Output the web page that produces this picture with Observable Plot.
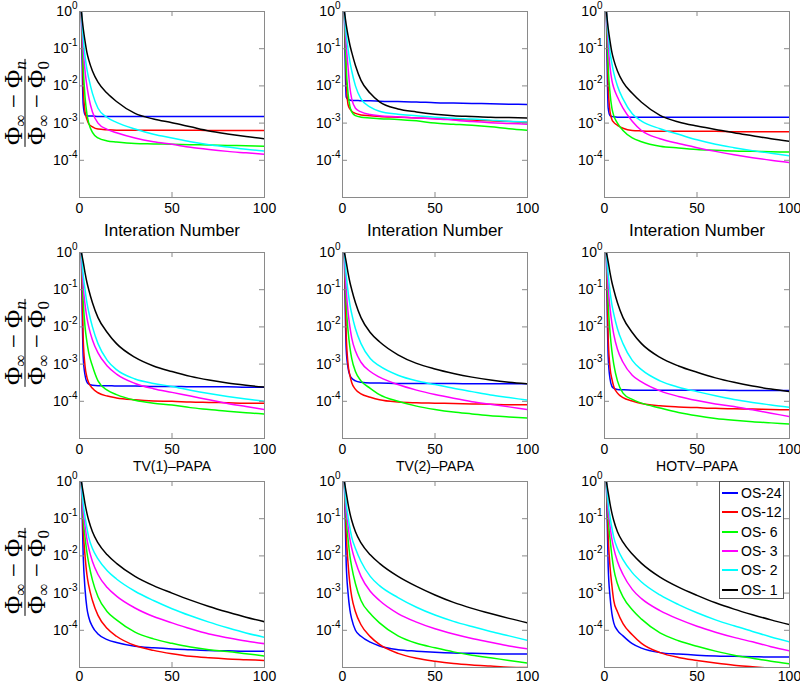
<!DOCTYPE html>
<html><head><meta charset="utf-8">
<script src="https://cdn.jsdelivr.net/npm/d3@7"></script>
<script src="https://cdn.jsdelivr.net/npm/@observablehq/plot@0.6"></script>
<style>
html,body{margin:0;padding:0;background:#fff;}
body{width:800px;height:685px;position:relative;overflow:hidden;font-family:"Liberation Sans",Arial,Helvetica,sans-serif;}
.panel{position:absolute;}
.ylab{position:absolute;transform:translate(-50%,-50%) rotate(-90deg);font-family:"Liberation Serif","DejaVu Serif",serif;font-size:25px;color:#000;white-space:nowrap;text-align:center;}
.ylab .num{border-bottom:1.6px solid #000;line-height:21px;padding:0 2px 1px 2px;}
.ylab .den{line-height:22px;padding:0 2px 0 2px;}
.ylab sub{font-size:0.68em;vertical-align:-0.28em;line-height:0;}
.legend{position:absolute;background:#fff;border:1px solid #555;font-size:14px;padding-top:2px;box-sizing:border-box;}
.legend .row{height:19.3px;display:flex;align-items:center;white-space:pre;}
.legend .sw{display:inline-block;width:16px;height:2px;margin:0 3px 0 2px;}
</style></head><body>
<script>
// ---------- shared axes / categories ----------
const iterations = [1, 2, 3, 4, 5, 7, 10, 15, 20, 30, 40, 50, 60, 70, 80, 90, 100];
const seriesNames = ["OS-24", "OS-12", "OS- 6", "OS- 3", "OS- 2", "OS- 1"];
const seriesColors = ["#0000ff", "#ff0000", "#00ff00", "#ff00ff", "#00ffff", "#000000"];
const xTicks = [0, 50, 100];
const yTicks = [1, 1e-1, 1e-2, 1e-3, 1e-4];
const yTickLabels = ["10^0", "10^-1", "10^-2", "10^-3", "10^-4"];
const panelXLabels = ["Interation Number", "Interation Number", "Interation Number",
                      "TV(1)\u2013PAPA", "TV(2)\u2013PAPA", "HOTV\u2013PAPA", "", "", ""];

// ---------- values: log10 of (Phi_inf - Phi_n)/(Phi_inf - Phi_0), read at the iterations above ----------
// row 1, column 1
const r1c1_os24 = [0,-2.5,-2.78,-2.8,-2.81,-2.81,-2.82,-2.82,-2.82,-2.82,-2.82,-2.82,-2.82,-2.82,-2.82,-2.82,-2.82];
const r1c1_os12 = [0,-2.0,-2.7,-2.9,-3.02,-3.1,-3.16,-3.18,-3.19,-3.19,-3.19,-3.19,-3.19,-3.2,-3.2,-3.2,-3.2];
const r1c1_os6  = [0,-1.5,-2.3,-2.75,-3.0,-3.25,-3.4,-3.48,-3.51,-3.55,-3.56,-3.57,-3.58,-3.59,-3.6,-3.61,-3.62];
const r1c1_os3  = [0,-1.0,-1.6,-2.0,-2.3,-2.7,-3.0,-3.17,-3.26,-3.4,-3.5,-3.57,-3.65,-3.71,-3.76,-3.8,-3.84];
const r1c1_os2  = [0,-0.7,-1.2,-1.55,-1.8,-2.2,-2.6,-2.85,-2.98,-3.16,-3.3,-3.4,-3.5,-3.58,-3.64,-3.7,-3.75];
const r1c1_os1  = [0,-0.45,-0.8,-1.1,-1.3,-1.6,-1.9,-2.2,-2.42,-2.74,-2.89,-2.99,-3.1,-3.21,-3.29,-3.36,-3.42];
// row 1, column 2
const r1c2_os24 = [0,-2.3,-2.37,-2.38,-2.39,-2.39,-2.4,-2.4,-2.41,-2.42,-2.43,-2.45,-2.46,-2.47,-2.48,-2.49,-2.5];
const r1c2_os12 = [0,-1.8,-2.5,-2.62,-2.68,-2.74,-2.78,-2.8,-2.82,-2.84,-2.86,-2.88,-2.9,-2.92,-2.94,-2.96,-2.98];
const r1c2_os6  = [0,-1.5,-2.2,-2.55,-2.7,-2.8,-2.84,-2.86,-2.88,-2.9,-2.94,-3.0,-3.03,-3.06,-3.1,-3.15,-3.19];
const r1c2_os3  = [0,-0.9,-1.5,-2.05,-2.35,-2.6,-2.7,-2.77,-2.8,-2.83,-2.86,-2.88,-2.92,-2.96,-2.99,-3.01,-3.03];
const r1c2_os2  = [0,-0.6,-1.0,-1.35,-1.6,-2.0,-2.35,-2.57,-2.68,-2.76,-2.8,-2.84,-2.87,-2.89,-2.92,-2.95,-2.97];
const r1c2_os1  = [0,-0.35,-0.65,-0.9,-1.1,-1.45,-1.85,-2.2,-2.43,-2.62,-2.7,-2.76,-2.8,-2.82,-2.84,-2.85,-2.86];
// row 1, column 3
const r1c3_os24 = [0,-2.6,-2.8,-2.82,-2.83,-2.84,-2.84,-2.84,-2.84,-2.84,-2.84,-2.84,-2.84,-2.84,-2.84,-2.84,-2.84];
const r1c3_os12 = [0,-2.0,-2.7,-2.9,-2.98,-3.06,-3.14,-3.2,-3.21,-3.22,-3.22,-3.22,-3.22,-3.23,-3.23,-3.23,-3.23];
const r1c3_os6  = [0,-1.5,-2.2,-2.6,-2.8,-3.0,-3.2,-3.4,-3.5,-3.62,-3.67,-3.71,-3.73,-3.75,-3.76,-3.77,-3.78];
const r1c3_os3  = [0,-0.9,-1.5,-1.85,-2.05,-2.3,-2.6,-2.95,-3.2,-3.42,-3.55,-3.66,-3.76,-3.85,-3.93,-4.0,-4.06];
const r1c3_os2  = [0,-0.6,-1.1,-1.4,-1.65,-2.0,-2.35,-2.75,-2.95,-3.15,-3.3,-3.45,-3.57,-3.66,-3.74,-3.81,-3.88];
const r1c3_os1  = [0,-0.45,-0.8,-1.1,-1.3,-1.6,-1.9,-2.2,-2.44,-2.79,-2.97,-3.08,-3.17,-3.26,-3.34,-3.42,-3.49];
// row 2, column 1 (TV(1)-PAPA)
const r2c1_os24 = [0,-2.8,-3.3,-3.48,-3.54,-3.57,-3.58,-3.58,-3.59,-3.59,-3.6,-3.6,-3.61,-3.61,-3.61,-3.62,-3.62];
const r2c1_os12 = [0,-2.3,-3.05,-3.35,-3.5,-3.65,-3.77,-3.86,-3.91,-3.96,-3.99,-4.0,-4.02,-4.03,-4.04,-4.05,-4.05];
const r2c1_os6  = [0,-1.3,-2.0,-2.4,-2.7,-3.05,-3.45,-3.7,-3.82,-3.97,-4.05,-4.1,-4.17,-4.22,-4.27,-4.31,-4.34];
const r2c1_os3  = [0,-0.9,-1.4,-1.75,-2.0,-2.35,-2.7,-3.05,-3.27,-3.52,-3.66,-3.76,-3.86,-3.96,-4.06,-4.14,-4.22];
const r2c1_os2  = [0,-0.6,-1.0,-1.35,-1.6,-2.0,-2.45,-2.9,-3.15,-3.4,-3.52,-3.6,-3.7,-3.79,-3.87,-3.94,-4.0];
const r2c1_os1  = [0,-0.25,-0.55,-0.8,-1.0,-1.35,-1.75,-2.15,-2.45,-2.82,-3.05,-3.2,-3.33,-3.43,-3.51,-3.57,-3.62];
// row 2, column 2 (TV(2)-PAPA)
const r2c2_os24 = [0,-2.6,-3.1,-3.3,-3.38,-3.45,-3.49,-3.51,-3.51,-3.52,-3.52,-3.52,-3.52,-3.53,-3.53,-3.53,-3.53];
const r2c2_os12 = [0,-2.2,-3.0,-3.3,-3.5,-3.68,-3.8,-3.89,-3.96,-4.02,-4.04,-4.05,-4.06,-4.07,-4.08,-4.09,-4.09];
const r2c2_os6  = [0,-1.4,-2.1,-2.55,-2.85,-3.2,-3.45,-3.65,-3.82,-4.0,-4.13,-4.22,-4.29,-4.34,-4.39,-4.42,-4.45];
const r2c2_os3  = [0,-1.0,-1.6,-2.0,-2.3,-2.65,-2.95,-3.2,-3.35,-3.55,-3.7,-3.82,-3.92,-4.01,-4.08,-4.15,-4.22];
const r2c2_os2  = [0,-0.6,-1.05,-1.4,-1.65,-2.05,-2.45,-2.85,-3.05,-3.3,-3.45,-3.55,-3.65,-3.74,-3.83,-3.9,-3.97];
const r2c2_os1  = [0,-0.25,-0.55,-0.8,-1.0,-1.35,-1.75,-2.15,-2.4,-2.75,-2.98,-3.13,-3.25,-3.35,-3.43,-3.49,-3.53];
// row 2, column 3 (HOTV-PAPA)
const r2c3_os24 = [0,-2.8,-3.4,-3.6,-3.65,-3.68,-3.69,-3.7,-3.7,-3.7,-3.7,-3.7,-3.7,-3.71,-3.71,-3.71,-3.71];
const r2c3_os12 = [0,-2.3,-3.1,-3.4,-3.6,-3.78,-3.9,-3.99,-4.06,-4.12,-4.15,-4.17,-4.19,-4.2,-4.21,-4.22,-4.23];
const r2c3_os6  = [0,-1.4,-2.15,-2.65,-3.0,-3.45,-3.78,-3.95,-4.05,-4.18,-4.3,-4.39,-4.46,-4.51,-4.55,-4.58,-4.61];
const r2c3_os3  = [0,-0.95,-1.5,-1.9,-2.2,-2.6,-2.95,-3.3,-3.48,-3.72,-3.87,-3.98,-4.07,-4.14,-4.23,-4.32,-4.41];
const r2c3_os2  = [0,-0.6,-1.05,-1.4,-1.65,-2.05,-2.45,-2.9,-3.15,-3.45,-3.62,-3.74,-3.85,-3.95,-4.03,-4.1,-4.16];
const r2c3_os1  = [0,-0.25,-0.55,-0.8,-1.0,-1.35,-1.75,-2.15,-2.45,-2.82,-3.05,-3.22,-3.37,-3.49,-3.59,-3.67,-3.74];
// row 3, column 1
const r3c1_os24 = [0,-2.0,-2.9,-3.4,-3.65,-3.9,-4.1,-4.25,-4.33,-4.43,-4.47,-4.5,-4.52,-4.54,-4.55,-4.56,-4.56];
const r3c1_os12 = [0,-1.3,-2.0,-2.5,-2.8,-3.2,-3.6,-3.95,-4.16,-4.41,-4.54,-4.63,-4.7,-4.74,-4.77,-4.79,-4.81];
const r3c1_os6  = [0,-1.0,-1.5,-1.9,-2.2,-2.65,-3.1,-3.5,-3.72,-4.05,-4.23,-4.35,-4.45,-4.52,-4.57,-4.63,-4.69];
const r3c1_os3  = [0,-0.8,-1.2,-1.55,-1.8,-2.15,-2.5,-2.85,-3.08,-3.4,-3.63,-3.8,-3.96,-4.1,-4.2,-4.29,-4.36];
const r3c1_os2  = [0,-0.6,-0.95,-1.25,-1.5,-1.8,-2.08,-2.4,-2.62,-2.95,-3.2,-3.42,-3.61,-3.78,-3.93,-4.07,-4.19];
const r3c1_os1  = [0,-0.3,-0.6,-0.85,-1.05,-1.35,-1.65,-1.97,-2.2,-2.55,-2.8,-3.0,-3.19,-3.36,-3.51,-3.65,-3.77];
// row 3, column 2
const r3c2_os24 = [0,-2.2,-3.0,-3.45,-3.7,-4.0,-4.16,-4.32,-4.42,-4.52,-4.56,-4.59,-4.61,-4.62,-4.63,-4.64,-4.64];
const r3c2_os12 = [0,-1.4,-2.2,-2.75,-3.1,-3.5,-3.85,-4.17,-4.38,-4.62,-4.75,-4.83,-4.89,-4.93,-4.96,-4.99,-5.0];
const r3c2_os6  = [0,-1.0,-1.55,-2.0,-2.3,-2.75,-3.2,-3.55,-3.8,-4.15,-4.35,-4.47,-4.58,-4.67,-4.74,-4.81,-4.88];
const r3c2_os3  = [0,-0.8,-1.2,-1.55,-1.8,-2.15,-2.55,-2.95,-3.2,-3.55,-3.78,-3.96,-4.1,-4.22,-4.32,-4.42,-4.5];
const r3c2_os2  = [0,-0.6,-0.95,-1.25,-1.5,-1.8,-2.15,-2.55,-2.8,-3.12,-3.38,-3.59,-3.76,-3.9,-4.03,-4.15,-4.27];
const r3c2_os1  = [0,-0.3,-0.6,-0.85,-1.05,-1.35,-1.65,-1.97,-2.2,-2.55,-2.82,-3.05,-3.25,-3.41,-3.55,-3.68,-3.8];
// row 3, column 3
const r3c3_os24 = [0,-2.3,-3.1,-3.55,-3.8,-4.0,-4.15,-4.36,-4.48,-4.6,-4.64,-4.67,-4.69,-4.7,-4.71,-4.72,-4.72];
const r3c3_os12 = [0,-1.5,-2.3,-2.8,-3.2,-3.5,-3.82,-4.12,-4.35,-4.6,-4.73,-4.81,-4.88,-4.94,-4.98,-5.02,-5.06];
const r3c3_os6  = [0,-1.0,-1.55,-2.0,-2.35,-2.75,-3.1,-3.45,-3.7,-4.07,-4.28,-4.43,-4.56,-4.67,-4.75,-4.83,-4.9];
const r3c3_os3  = [0,-0.8,-1.2,-1.55,-1.8,-2.15,-2.5,-2.9,-3.15,-3.47,-3.7,-3.89,-4.05,-4.19,-4.31,-4.44,-4.55];
const r3c3_os2  = [0,-0.6,-0.95,-1.25,-1.5,-1.8,-2.1,-2.45,-2.7,-3.05,-3.31,-3.53,-3.72,-3.88,-4.03,-4.18,-4.31];
const r3c3_os1  = [0,-0.3,-0.6,-0.85,-1.05,-1.35,-1.63,-1.95,-2.2,-2.57,-2.84,-3.06,-3.26,-3.43,-3.58,-3.72,-3.85];

const panelSeries = [
  [r1c1_os24, r1c1_os12, r1c1_os6, r1c1_os3, r1c1_os2, r1c1_os1],
  [r1c2_os24, r1c2_os12, r1c2_os6, r1c2_os3, r1c2_os2, r1c2_os1],
  [r1c3_os24, r1c3_os12, r1c3_os6, r1c3_os3, r1c3_os2, r1c3_os1],
  [r2c1_os24, r2c1_os12, r2c1_os6, r2c1_os3, r2c1_os2, r2c1_os1],
  [r2c2_os24, r2c2_os12, r2c2_os6, r2c2_os3, r2c2_os2, r2c2_os1],
  [r2c3_os24, r2c3_os12, r2c3_os6, r2c3_os3, r2c3_os2, r2c3_os1],
  [r3c1_os24, r3c1_os12, r3c1_os6, r3c1_os3, r3c1_os2, r3c1_os1],
  [r3c2_os24, r3c2_os12, r3c2_os6, r3c2_os3, r3c2_os2, r3c2_os1],
  [r3c3_os24, r3c3_os12, r3c3_os6, r3c3_os3, r3c3_os2, r3c3_os1]
];

// ---------- layout ----------
const frameLeft = [79, 342, 604];
const frameTop = [11, 251.5, 480.5];
const FW = 185, FH = 186;
const mL = 50, mT = 10, mR = 11, mB = 45;
const AX = "#8a8a8a";

function makePanel(idx) {
  const r = Math.floor(idx / 3), c = idx % 3;
  const rows = [];
  panelSeries[idx].forEach((arr, k) =>
    arr.forEach((e, i) => rows.push({x: iterations[i], y: Math.pow(10, e), s: seriesNames[k]})));
  const label = panelXLabels[idx];
  const marks = [
    Plot.line(rows, {x: "x", y: "y", z: "s", stroke: "s", strokeWidth: 1.5, curve: "monotone-x", clip: true}),
    Plot.tickX(xTicks, {x: d => d, insetTop: FH - 5, stroke: AX}),
    Plot.tickX(xTicks, {x: d => d, insetBottom: FH - 5, stroke: AX}),
    Plot.tickY(yTicks, {y: d => d, insetRight: FW - 5, stroke: AX}),
    Plot.tickY(yTicks, {y: d => d, insetLeft: FW - 5, stroke: AX}),
    Plot.frame({stroke: AX}),
    Plot.axisX(xTicks, {tickSize: 0, tickPadding: r === 2 ? 4 : 6, tickFormat: d => String(d), fontSize: 14, label: null}),
    Plot.axisY(yTicks, {tickSize: 0, tickPadding: 2, tickFormat: d => yTickLabels[yTicks.indexOf(d)], fontSize: 14, label: null})
  ];
  if (label) {
    marks.push(Plot.text([label], {frameAnchor: "bottom", lineAnchor: "middle", dy: r === 0 ? 33 : 28, text: d => d,
      fontSize: r === 0 ? 17 : 14, fill: "#000"}));
  }
  const chart = Plot.plot({
    width: mL + FW + mR, height: mT + FH + mB,
    marginLeft: mL, marginTop: mT, marginRight: mR, marginBottom: mB,
    style: {background: "transparent", fontFamily: "'Liberation Sans', Arial, sans-serif", fontSize: "14px", color: "#000", overflow: "visible"},
    x: {domain: [0, 100]},
    y: {type: "log", domain: [1e-5, 1]},
    color: {domain: seriesNames, range: seriesColors},
    marks
  });
  // turn "10^-1" into 10 with a raised exponent
  chart.querySelectorAll("text").forEach(t => {
    const s = t.textContent;
    if (s && s.startsWith("10^")) {
      const exp = s.slice(3);
      t.textContent = "10";
      const ts = document.createElementNS("http://www.w3.org/2000/svg", "tspan");
      ts.setAttribute("dy", "-7");
      ts.setAttribute("font-size", "10");
      ts.textContent = exp;
      t.appendChild(ts);
    }
  });
  const wrap = document.createElement("div");
  wrap.className = "panel";
  wrap.style.left = (frameLeft[c] - mL) + "px";
  wrap.style.top = (frameTop[r] - mT) + "px";
  wrap.appendChild(chart);
  document.body.appendChild(wrap);
}
for (let i = 0; i < 9; i++) makePanel(i);

// y-axis fraction labels
frameTop.forEach(t => {
  const d = document.createElement("div");
  d.className = "ylab";
  d.style.left = "25px";
  d.style.top = (t + FH / 2 - 1.5) + "px";
  d.innerHTML = '<div class="num">\u03A6<sub>\u221E</sub> \u2212 \u03A6<sub><i>n</i></sub></div>' +
                '<div class="den">\u03A6<sub>\u221E</sub> \u2212 \u03A6<sub>0</sub></div>';
  document.body.appendChild(d);
});

// legend in the last panel
const lg = document.createElement("div");
lg.className = "legend";
lg.style.left = "719px";
lg.style.top = frameTop[2] + "px";
lg.style.width = "65px";
lg.style.height = "118px";
seriesNames.forEach((n, k) => {
  const row = document.createElement("div");
  row.className = "row";
  const sw = document.createElement("span");
  sw.className = "sw";
  sw.style.background = seriesColors[k];
  const tx = document.createElement("span");
  tx.textContent = n;
  row.appendChild(sw); row.appendChild(tx);
  lg.appendChild(row);
});
document.body.appendChild(lg);
</script>
</body></html>
